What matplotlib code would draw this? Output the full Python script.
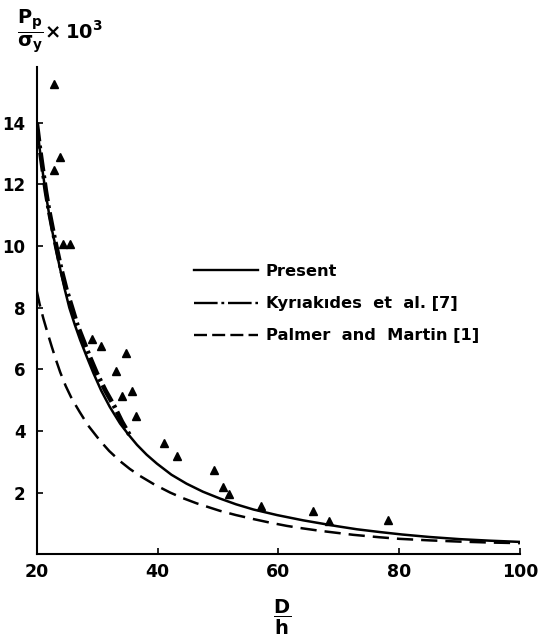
import numpy as np
import matplotlib.pyplot as plt

# collapse pressure vs D/h
present_x = [20, 20.5, 21, 21.5, 22, 22.5, 23, 23.5, 24, 24.7, 25.4, 26.3, 27.2,
             28.3, 29.4, 30.7, 32.1, 33.8, 35.2, 36.6, 38.2, 39.9, 42.3, 44.8,
             47.5, 50.3, 53, 55.9, 59.8, 64.1, 69.7, 73, 76.8, 80.5, 85, 90, 95, 100]
present_y = [14.0, 13.15, 12.4, 11.7, 11.1, 10.55, 10.1, 9.6, 9.15, 8.55, 8.0, 7.45, 6.95,
             6.4, 5.87, 5.3, 4.78, 4.24, 3.88, 3.55, 3.23, 2.94, 2.58, 2.29,
             2.03, 1.81, 1.62, 1.45, 1.27, 1.10, 0.91, 0.81, 0.72, 0.64, 0.56, 0.49, 0.44, 0.40]

kyr_x = [20, 20.5, 21, 21.5, 22, 22.5, 23, 23.5, 24, 24.9, 25.8, 26.7, 27.7,
         28.8, 29.95, 31.4, 32.9, 34.1, 35.4]
kyr_y = [14.0, 13.2, 12.5, 11.8, 11.2, 10.7, 10.2, 9.75, 9.3, 8.6, 8.03, 7.45, 6.95,
         6.4, 5.87, 5.3, 4.78, 4.3, 3.86]

palmer_x = [20, 20.5, 21.1, 21.8, 22.5, 23.2, 23.9, 24.8, 25.8, 27.1, 28.5, 30.5,
            32, 33.8, 35.4, 37.1, 39.5, 42.1, 44.2, 46.5, 50.3, 53, 55.9, 58.5,
            61.4, 64, 66.9, 72.4, 76.8, 80, 85, 90, 95, 100]
palmer_y = [8.55, 8.1, 7.65, 7.18, 6.73, 6.3, 5.9, 5.46, 5.05, 4.62, 4.18, 3.68,
            3.35, 3.02, 2.77, 2.54, 2.26, 2.0, 1.82, 1.65, 1.41, 1.27, 1.14, 1.03,
            0.92, 0.84, 0.76, 0.63, 0.55, 0.50, 0.45, 0.41, 0.38, 0.36]

# test points (triangles)
test_x = [22.9, 23.9, 22.9, 24.4, 25.5, 29.1, 30.6, 34.8, 33.2, 35.8, 34.2, 36.4,
          41.0, 43.3, 49.4, 50.9, 51.8, 57.2, 65.8, 68.4, 78.2]
test_y = [15.25, 12.9, 12.45, 10.08, 10.08, 6.97, 6.75, 6.53, 5.94, 5.29, 5.13, 4.47,
          3.60, 3.20, 2.74, 2.18, 1.96, 1.55, 1.40, 1.09, 1.11]

x_ticks = [20, 40, 60, 80, 100]
y_ticks = [2, 4, 6, 8, 10, 12, 14]

plt.rcParams['font.family'] = ['DejaVu Sans']
plt.rcParams['mathtext.fontset'] = 'custom'
plt.rcParams['mathtext.rm'] = 'DejaVu Sans:bold'
plt.rcParams['mathtext.it'] = 'DejaVu Sans:bold'
plt.rcParams['mathtext.bf'] = 'DejaVu Sans:bold'

fig = plt.figure(figsize=(5.38, 6.4), dpi=100)
ax = fig.add_axes([0.0682, 0.134, 0.8983, 0.761])

ax.plot(present_x, present_y, color='black', lw=1.8, label='Present')
ax.plot(kyr_x, kyr_y, color='black', lw=3.4, dashes=(4.0, 0.9, 0.6, 0.9),
        label='Kyrıakıdes  et  al. [7]')
ax.plot(palmer_x, palmer_y, color='black', lw=1.8, dashes=(6.5, 3.2),
        label='Palmer  and  Martin [1]')
ax.plot(test_x, test_y, '^', color='black', markersize=5.3, linestyle='none')

ax.set_xlim(20, 100)
ax.set_ylim(0, 15.8)
ax.set_xticks(x_ticks)
ax.set_yticks(y_ticks)
ax.tick_params(direction='in', length=4, width=1.2)
ax.tick_params(axis='x', pad=6, labelsize=12.5)
ax.tick_params(axis='y', pad=8, labelsize=12)
for lab in ax.get_xticklabels() + ax.get_yticklabels():
    lab.set_fontweight('bold')
ax.spines['top'].set_visible(False)
ax.spines['right'].set_visible(False)
ax.spines['left'].set_linewidth(1.5)
ax.spines['bottom'].set_linewidth(1.5)

leg = ax.legend(loc='upper left', bbox_to_anchor=(0.346, 0.600),
                bbox_transform=fig.transFigure, frameon=False,
                handlelength=3.9, handletextpad=0.5, labelspacing=1.05,
                borderpad=0, prop={'size': 11.7, 'weight': 'bold'})
handles = leg.get_lines()
for h in handles:
    h.set_linewidth(1.7)
handles[1].set_linestyle((0, (10, 1.6, 1.2, 1.6)))
handles[2].set_linestyle((0, (5.5, 2.2)))

# axis labels as fractions
fig.text(0.032, 0.951, r'$\dfrac{P_p}{\sigma_y}\!\times 10^3$', fontsize=14,
         ha='left', va='center')
fig.text(0.524, 0.035, r'$\dfrac{D}{h}$', fontsize=14, ha='center', va='center')

fig.savefig('out.png', dpi=100)
